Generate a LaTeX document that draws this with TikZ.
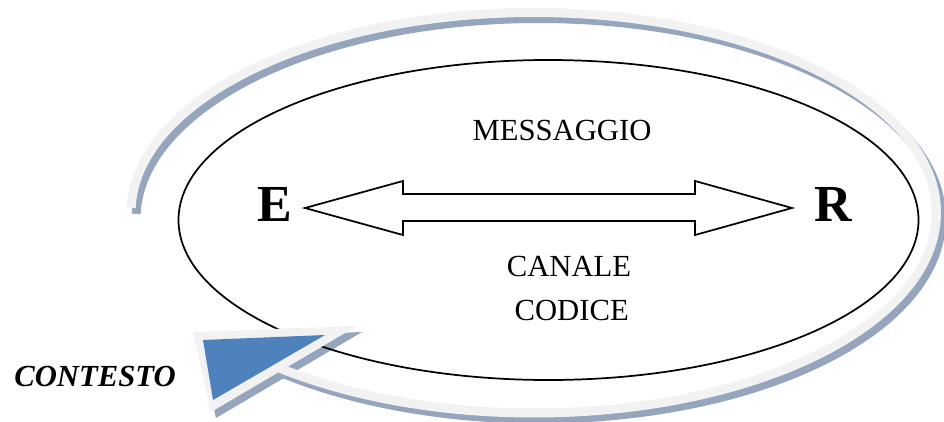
\documentclass[tikz,border=0pt]{standalone}
\usepackage{fontspec}
\setmainfont{Liberation Serif}
\usepackage{tikz}
\definecolor{azzurro}{HTML}{4F81BD}
\definecolor{grigino}{HTML}{F2F2F2}
\definecolor{ombra}{HTML}{95A5BE}
\tikzstyle{etichetta} = [inner sep=0pt, anchor=base, font=\fontsize{23}{27}\selectfont]
\tikzstyle{polo} = [inner sep=0pt, anchor=base, font=\fontsize{39}{45}\selectfont\bfseries]
\tikzstyle{contesto} = [inner sep=0pt, anchor=base, font=\fontsize{23}{27}\selectfont\bfseries\itshape]
\tikzstyle{banda} = [line width=6.75pt]
\tikzstyle{freccia} = [draw=black, line width=1.3pt, fill=white, line join=miter]

\begin{document}
\begin{tikzpicture}[x=0.75pt, y=-0.75pt]
	\useasboundingbox (0,0) rectangle (944,421);
	% ombra della freccia curva
	\begin{scope}[shift={(5,6)}]
		\draw[banda, ombra] (533.75,212.75) ++(181.4:402.75 and 200.25) arc[start angle=181.4, end angle=491, x radius=402.75, y radius=200.25];
		\fill[ombra] (193,332) -- (357,326) -- (211,412) -- cycle;
	\end{scope}
	% freccia curva
	\draw[banda, grigino] (533.75,212.75) ++(181.4:402.75 and 200.25) arc[start angle=181.4, end angle=491, x radius=402.75, y radius=200.25];
	\draw[line width=1.3pt] (548.5,220) ellipse[x radius=370, y radius=160];
	\fill[grigino] (193,332) -- (357,326) -- (211,412) -- cycle;
	\fill[azzurro] (203,340) -- (325,335) -- (213,400) -- cycle;
	% testi
	\node[polo] (E) at (275,221.7) {E};
	\node[polo] (R) at (833,221.7) {R};
	\node[etichetta] (messaggio) at (562,140) {MESSAGGIO};
	\node[etichetta] (canale) at (569,276.7) {CANALE};
	\node[etichetta] (codice) at (571.7,320) {CODICE};
	\node[contesto] (contesto) at (95,386.7) {CONTESTO};
	% doppia freccia
	\draw[freccia] (305,208) -- (403,181) -- (403,194) -- (695,194) -- (695,181) -- (792,208)
		-- (695,235) -- (695,221) -- (403,221) -- (403,235) -- cycle;
\end{tikzpicture}
\end{document}
